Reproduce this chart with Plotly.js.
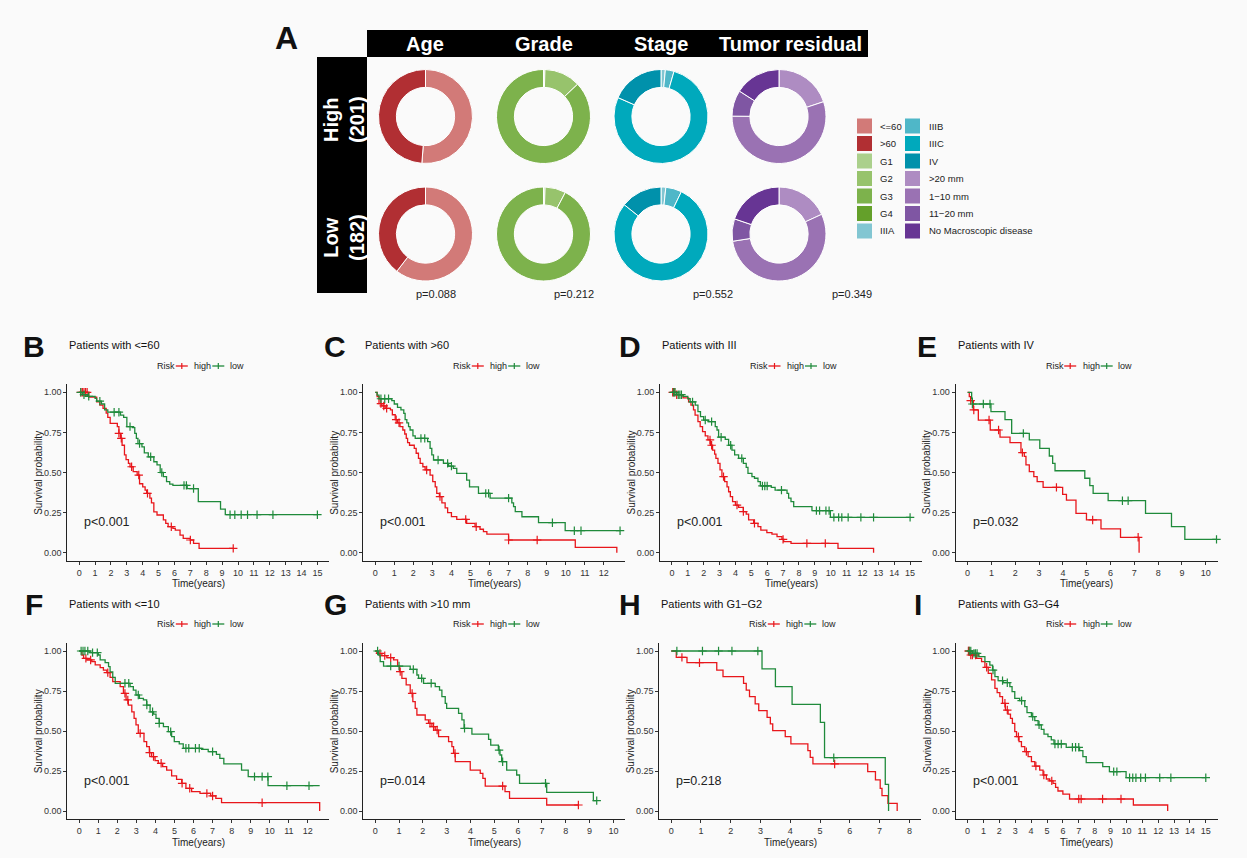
<!DOCTYPE html>
<html><head><meta charset="utf-8">
<script src="https://cdn.plot.ly/plotly-3.0.1.min.js"></script>
<style>html,body{margin:0;padding:0;background:#fafafa;}#chart{width:1247px;height:858px;}</style>
</head><body><div id="chart"></div>
<script>
// ---------------- Panel A data ----------------
const colLabels = ['Age', 'Grade', 'Stage', 'Tumor residual'];
const rowLabels = ['High<br>(201)', 'Low<br>(182)'];
const ageCats = ['&lt;=60', '>60'];
const ageHigh = [103, 98];
const ageLow = [110, 72];
const gradeCats = ['G1', 'G2', 'G3', 'G4'];
const gradeHigh = [1, 25, 175, 0];
const gradeLow = [1, 13, 168, 0];
const stageCats = ['IIIA', 'IIIB', 'IIIC', 'IV'];
const stageHigh = [3, 6, 155, 37];
const stageLow = [3, 10, 143, 26];
const residCats = ['>20 mm', '1\u221210 mm', '11\u221220 mm', 'No Macroscopic disease'];
const residHigh = [40, 111, 18, 32];
const residLow = [33, 99, 14, 36];
const pValuesA = ['p=0.088', 'p=0.212', 'p=0.552', 'p=0.349'];

const ageColors = ['#d27a78', '#b12f33'];
const gradeColors = ['#abd08c', '#97c36c', '#7db24c', '#64a02a'];
const stageColors = ['#82c6d2', '#4fb7c8', '#00a9bc', '#0091ab'];
const residColors = ['#ae8cc2', '#9a72b3', '#7f56a3', '#673594'];

// ---------------- KM panel data ----------------
const panelLetters = ['B', 'C', 'D', 'E', 'F', 'G', 'H', 'I'];
const panelTitles = ['Patients with &lt;=60', 'Patients with >60', 'Patients with III', 'Patients with IV',
  'Patients with &lt;=10', 'Patients with >10 mm', 'Patients with G1\u2212G2', 'Patients with G3\u2212G4'];
const panelP = ['p&lt;0.001', 'p&lt;0.001', 'p&lt;0.001', 'p=0.032', 'p&lt;0.001', 'p=0.014', 'p=0.218', 'p&lt;0.001'];
const legendTitle = 'Risk';
const groupNames = ['high', 'low'];
const ticks15 = [0,1,2,3,4,5,6,7,8,9,10,11,12,13,14,15];
const ticks12 = [0,1,2,3,4,5,6,7,8,9,10,11,12];
const ticks10 = [0,1,2,3,4,5,6,7,8,9,10];
const ticks8 = [0,1,2,3,4,5,6,7,8];
const yTickVals = [0, 0.25, 0.5, 0.75, 1];
const yTickText = ['0.00', '0.25', '0.50', '0.75', '1.00'];

// B
const B_high_time = [0,0.6,1.1,1.3,1.5,1.7,1.8,1.95,2.4,2.5,2.6,2.7,2.85,2.95,3.1,3.2,3.4,3.65,3.8,4.0,4.15,4.25,4.45,4.55,4.7,4.9,5.3,5.45,5.6,5.9,6.05,6.35,6.55,7.0,7.2,7.55,9.7];
const B_high_surv = [1,0.97,0.94,0.92,0.90,0.87,0.844,0.806,0.786,0.744,0.713,0.67,0.61,0.58,0.557,0.536,0.505,0.484,0.43,0.41,0.39,0.37,0.34,0.31,0.255,0.235,0.204,0.183,0.162,0.152,0.141,0.11,0.089,0.079,0.058,0.027,0.027];
const B_high_cens = [0.1,0.2,0.3,0.4,0.5,2.5,2.65,3.3,3.75,4.3,5.8,7.0,9.7];
const B_low_time = [0,0.2,0.5,1.0,1.1,1.4,1.6,1.8,2.6,2.8,3.0,3.35,3.5,3.6,3.7,3.95,4.1,4.35,4.7,4.9,5.1,5.3,5.5,5.7,5.9,6.8,7.5,8.9,9.2,15.0];
const B_low_surv = [1,0.985,0.975,0.962,0.945,0.927,0.89,0.876,0.858,0.844,0.786,0.78,0.744,0.713,0.68,0.66,0.623,0.598,0.567,0.547,0.5,0.474,0.443,0.428,0.42,0.40,0.318,0.272,0.237,0.237];
const B_low_cens = [0.1,0.3,0.6,1.3,2.2,2.5,3.2,3.8,4.5,5.2,6.6,6.75,7.2,9.5,9.8,10.2,10.6,11.2,12.2,15.0];
// C
const C_high_time = [0,0.1,0.2,0.35,0.52,0.8,0.9,1.05,1.17,1.3,1.45,1.55,1.63,1.7,1.8,2.05,2.15,2.27,2.36,2.5,2.62,2.88,3.02,3.15,3.23,3.37,3.5,3.67,3.8,4.0,4.28,4.8,5.24,5.5,5.68,5.86,7.0,10.5,12.68];
const C_high_surv = [1,0.973,0.93,0.915,0.9,0.89,0.86,0.83,0.81,0.786,0.765,0.74,0.713,0.686,0.67,0.65,0.62,0.588,0.557,0.536,0.516,0.484,0.443,0.41,0.37,0.35,0.31,0.28,0.25,0.225,0.208,0.183,0.162,0.146,0.131,0.116,0.079,0.033,0];
const C_high_cens = [0.3,0.45,0.6,1.1,1.25,2.7,3.4,4.75,5.3,7.0,8.5];
const C_low_time = [0,0.1,0.2,0.87,1.0,1.17,1.35,1.5,1.57,1.66,1.75,1.83,1.98,2.1,2.75,2.88,2.97,3.06,3.58,3.85,4.1,4.28,4.8,4.95,5.42,6.03,7.17,7.26,7.35,7.7,8.57,9.97,12.85];
const C_low_surv = [1,0.983,0.96,0.948,0.927,0.906,0.89,0.869,0.83,0.81,0.786,0.765,0.728,0.713,0.692,0.65,0.61,0.578,0.557,0.54,0.526,0.494,0.453,0.41,0.37,0.34,0.31,0.287,0.256,0.224,0.187,0.137,0.137];
const C_low_cens = [0.3,0.5,0.7,2.4,2.6,3.3,3.8,4.0,5.8,5.95,7.0,9.3,10.45,10.8,12.85];
// D
const D_high_time = [0,0.3,0.7,1.05,1.2,1.36,1.46,1.64,1.78,1.93,2.1,2.27,2.42,2.56,2.69,2.77,2.9,3.03,3.15,3.32,3.47,3.57,3.68,3.82,4.0,4.2,4.5,4.68,4.83,5.15,5.42,5.6,5.98,6.3,6.62,6.93,7.04,7.5,10.46,12.7];
const D_high_surv = [1,0.985,0.965,0.94,0.92,0.89,0.858,0.817,0.786,0.755,0.728,0.703,0.67,0.64,0.615,0.588,0.557,0.516,0.474,0.443,0.41,0.38,0.35,0.318,0.297,0.283,0.256,0.241,0.204,0.183,0.162,0.141,0.125,0.116,0.1,0.083,0.069,0.058,0.027,0];
const D_high_cens = [0.05,0.15,0.3,2.4,2.5,3.25,4.1,4.5,5.2,7.0,8.5,9.66];
const D_low_time = [0,0.3,0.7,1.0,1.15,1.47,1.64,1.8,2.0,2.3,2.73,2.84,2.94,3.36,3.57,3.78,3.95,4.2,4.5,4.68,4.79,5.04,5.2,5.42,5.57,6.26,6.5,7.25,7.35,7.5,7.67,8.82,9.98,15.0];
const D_low_surv = [1,0.985,0.975,0.96,0.94,0.92,0.88,0.848,0.827,0.817,0.786,0.765,0.72,0.707,0.67,0.64,0.61,0.588,0.557,0.532,0.495,0.474,0.464,0.443,0.416,0.407,0.39,0.37,0.34,0.318,0.287,0.262,0.22,0.22];
const D_low_cens = [0.1,0.2,0.4,0.5,0.6,1.3,2.1,2.5,3.1,3.7,4.4,5.7,5.85,6.0,6.9,9.1,9.3,9.7,9.9,10.2,10.5,10.7,11.1,11.9,12.7,15.0];
// E
const E_high_time = [0,0.07,0.13,0.24,0.45,0.95,1.36,1.78,2.24,2.38,2.45,2.59,2.78,2.92,3.17,3.99,4.15,4.55,4.99,5.6,6.42,7.2];
const E_high_surv = [1,0.973,0.948,0.89,0.827,0.765,0.72,0.686,0.624,0.6,0.547,0.505,0.474,0.443,0.407,0.364,0.328,0.245,0.204,0.148,0.096,0];
const E_high_cens = [0.13,0.26,0.9,1.3,2.3,3.73,5.25,7.16];
const E_low_time = [0,0.17,0.2,0.98,1.57,1.85,2.59,3.03,3.43,3.57,3.67,4.92,5.13,5.27,5.9,7.47,8.56,9.12,10.45];
const E_low_surv = [1,0.963,0.927,0.88,0.83,0.744,0.703,0.65,0.603,0.557,0.511,0.464,0.418,0.37,0.324,0.245,0.162,0.083,0.083];
const E_low_cens = [0.2,0.66,0.94,2.34,6.5,6.74,10.45];
// F
const F_high_time = [0,0.14,0.23,0.4,0.66,0.84,1.1,1.27,1.45,1.62,1.76,2.15,2.32,2.46,2.58,2.76,2.88,2.98,3.1,3.4,3.54,3.68,3.8,3.98,4.15,4.38,4.59,4.85,5.11,5.38,5.6,5.9,6.34,6.9,7.17,7.47,12.62];
const F_high_surv = [1,0.975,0.954,0.944,0.933,0.913,0.896,0.881,0.865,0.835,0.808,0.777,0.735,0.694,0.662,0.62,0.579,0.538,0.485,0.433,0.402,0.365,0.34,0.315,0.298,0.277,0.256,0.219,0.198,0.173,0.142,0.121,0.11,0.094,0.079,0.052,0];
const F_high_cens = [0.35,0.6,1.5,2.4,2.55,3.2,3.7,3.9,4.3,5.4,5.8,6.7,7.0,9.6];
const F_low_time = [0,0.58,1.0,1.1,1.36,1.54,1.62,1.76,1.89,2.67,2.84,2.98,3.16,3.37,3.54,3.72,3.9,4.03,4.2,4.42,4.68,4.85,4.99,5.25,5.46,6.42,6.77,7.2,7.38,7.59,8.52,8.87,9.91,12.62];
const F_low_surv = [1,0.99,0.975,0.944,0.927,0.902,0.87,0.835,0.798,0.777,0.756,0.725,0.704,0.694,0.662,0.62,0.606,0.579,0.548,0.527,0.496,0.465,0.433,0.419,0.392,0.385,0.371,0.354,0.329,0.294,0.256,0.215,0.158,0.158];
const F_low_cens = [0.1,0.2,0.3,0.45,0.7,0.95,2.4,2.6,3.1,3.55,3.85,4.2,4.8,5.6,5.75,6.1,6.3,7.0,9.2,9.6,9.9,10.9,12.06];
// G
const G_high_time = [0,0.07,0.28,0.49,0.77,0.94,1.02,1.12,1.3,1.47,1.58,1.68,1.75,2.1,2.24,2.38,2.52,2.66,3.08,3.22,3.29,3.36,3.99,4.41,4.52,4.62,5.45,5.64,7.2,8.53];
const G_high_surv = [1,0.985,0.971,0.958,0.944,0.906,0.871,0.829,0.788,0.735,0.683,0.642,0.6,0.569,0.548,0.527,0.506,0.465,0.433,0.402,0.36,0.308,0.256,0.235,0.204,0.156,0.121,0.079,0.0375,0.0375];
const G_high_cens = [0.2,0.4,0.65,1.05,1.55,2.3,2.45,2.6,3.35,5.35,8.53];
const G_low_time = [0,0.14,0.21,0.35,1.47,1.75,1.82,2.03,2.52,2.7,2.8,2.94,3.0,3.5,3.64,3.73,4.06,4.76,4.85,5.17,5.24,5.31,5.52,5.94,6.06,7.2,9.16,9.3];
const G_low_surv = [1,0.975,0.933,0.906,0.885,0.85,0.829,0.798,0.777,0.756,0.715,0.673,0.642,0.61,0.569,0.517,0.481,0.448,0.412,0.381,0.35,0.308,0.256,0.225,0.173,0.117,0.065,0.065];
const G_low_cens = [0.1,0.65,1.0,1.6,1.95,2.35,3.75,5.2,5.35,7.15,9.3];
// H
const H_high_time = [0,0.17,0.53,1.53,1.74,2.43,2.52,2.63,2.82,2.94,3.22,3.33,3.41,3.83,4.02,4.59,4.67,4.76,6.6,6.86,7.02,7.08,7.28,7.59];
const H_high_surv = [1,0.96,0.927,0.881,0.84,0.798,0.756,0.715,0.669,0.627,0.585,0.544,0.502,0.465,0.419,0.377,0.335,0.294,0.246,0.194,0.142,0.096,0.048,0];
const H_high_cens = [0.36,0.95,5.49];
const H_low_time = [0,3.05,3.5,4.06,5.01,5.15,7.19,7.3];
const H_low_surv = [1,0.888,0.777,0.667,0.554,0.333,0.167,0];
const H_low_cens = [0.19,1.05,1.59,2.04,2.91,5.46];
// I
const I_high_time = [0,0.15,0.56,0.88,1.09,1.3,1.51,1.72,1.86,2.03,2.2,2.38,2.55,2.7,2.82,2.97,3.08,3.24,3.39,3.6,3.81,4.02,4.23,4.54,4.75,4.96,5.17,5.38,5.54,5.69,6.0,6.42,10.44,12.6];
const I_high_surv = [1,0.975,0.954,0.933,0.898,0.86,0.819,0.767,0.74,0.715,0.673,0.631,0.606,0.579,0.548,0.496,0.465,0.433,0.402,0.371,0.34,0.308,0.281,0.256,0.225,0.2,0.188,0.173,0.148,0.125,0.106,0.075,0.0375,0];
const I_high_cens = [0.05,0.1,0.2,0.3,0.5,1.2,2.35,2.5,3.2,3.7,4.3,4.8,5.3,7.0,7.15,8.5,9.66];
const I_low_time = [0,0.3,0.7,1.09,1.4,1.57,1.72,1.92,2.24,2.66,2.8,2.97,3.28,3.6,3.74,4.02,4.23,4.44,4.64,4.81,5.06,5.27,5.44,6.21,7.05,7.26,7.47,8.51,8.93,9.98,15.0];
const I_low_surv = [1,0.985,0.965,0.933,0.912,0.881,0.84,0.815,0.802,0.777,0.746,0.704,0.69,0.652,0.615,0.59,0.565,0.538,0.51,0.481,0.465,0.444,0.419,0.398,0.377,0.34,0.302,0.277,0.246,0.208,0.208];
const I_low_cens = [0.1,0.2,0.4,0.5,0.6,1.6,2.2,2.5,3.4,4.1,4.5,5.5,5.7,5.9,6.6,6.8,7.0,9.2,9.4,10.2,10.4,10.6,10.9,11.2,12.1,12.8,15.0];

// ---------------- layout helpers ----------------
const W = 1247, H = 858;
const px = v => v / W;
const py = v => 1 - v / H;
const FONT = 'Arial, "Liberation Sans", sans-serif';
const RED = '#e8161b', GREEN = '#1f8a3b';

const data = [];
const annotations = [];
const shapes = [];
const layout = {
  width: W, height: H, margin: {l: 0, r: 0, t: 0, b: 0},
  paper_bgcolor: '#fafafa', plot_bgcolor: 'rgba(0,0,0,0)',
  font: {family: FONT, color: '#222'},
  showlegend: false
};
function note(text, x, y, size, color, xanchor, extra) {
  annotations.push(Object.assign({text: text, x: px(x), y: py(y), xref: 'paper', yref: 'paper', showarrow: false,
    font: {size: size, color: color, family: FONT}, xanchor: xanchor || 'center', yanchor: 'middle'}, extra || {}));
}
function pline(x0, y0, x1, y1, color, w) {
  shapes.push({type: 'line', xref: 'paper', yref: 'paper', x0: px(x0), y0: py(y0), x1: px(x1), y1: py(y1),
    line: {color: color, width: w}});
}

// ---- Panel A ----
note('<b>A</b>', 286, 38, 32, '#111');
shapes.push({type: 'rect', xref: 'paper', yref: 'paper', x0: px(367), x1: px(868), y0: py(57), y1: py(30), fillcolor: '#000', line: {width: 0}});
shapes.push({type: 'rect', xref: 'paper', yref: 'paper', x0: px(317), x1: px(367), y0: py(293), y1: py(57), fillcolor: '#000', line: {width: 0}});
const colX = [425, 543.5, 661, 790];
colLabels.forEach((t, i) => note('<b>' + t + '</b>', colX[i], 44, 20, '#fff'));
const rowY = [120, 238];
rowLabels.forEach((t, i) => note('<b>' + t + '</b>', 344, rowY[i], 20, '#fff', 'center', {textangle: -90}));

const pieCX = [425.5, 543.5, 661, 779];
const pieCY = [116.5, 234];
const pieR = 47;
const pieSets = [
  [ageCats, ageHigh, ageLow, ageColors],
  [gradeCats, gradeHigh, gradeLow, gradeColors],
  [stageCats, stageHigh, stageLow, stageColors],
  [residCats, residHigh, residLow, residColors]
];
pieSets.forEach((set, c) => {
  [set[1], set[2]].forEach((vals, r) => {
    data.push({
      type: 'pie', labels: set[0], values: vals, sort: false, direction: 'clockwise', rotation: 0,
      hole: 0.62, textinfo: 'none', hoverinfo: 'label+value', showlegend: false,
      marker: {colors: set[3], line: {color: '#ffffff', width: 1}},
      domain: {x: [px(pieCX[c] - pieR), px(pieCX[c] + pieR)], y: [py(pieCY[r] + pieR), py(pieCY[r] - pieR)]}
    });
  });
});
const pX = [436, 574, 713, 852];
pValuesA.forEach((t, i) => note(t, pX[i], 294, 11, '#222'));

// Panel A legend (two columns)
const allCats = ageCats.concat(gradeCats, stageCats, residCats);
const allColors = ageColors.concat(gradeColors, stageColors, residColors);
allCats.forEach((cat, i) => {
  const col = Math.floor(i / 7), row = i % 7;
  const sx = [857, 905][col], tx = [878, 927][col];
  const cy = 126 + 17.5 * row;
  shapes.push({type: 'rect', xref: 'paper', yref: 'paper', x0: px(sx), x1: px(sx + 15), y0: py(cy + 7.5), y1: py(cy - 7.5),
    fillcolor: allColors[i], line: {width: 0}});
  note(cat, tx, cy, 9.5, '#222', 'left');
});

// ---- KM panels ----
const kmSets = [
  [[B_high_time, B_high_surv, B_high_cens], [B_low_time, B_low_surv, B_low_cens]],
  [[C_high_time, C_high_surv, C_high_cens], [C_low_time, C_low_surv, C_low_cens]],
  [[D_high_time, D_high_surv, D_high_cens], [D_low_time, D_low_surv, D_low_cens]],
  [[E_high_time, E_high_surv, E_high_cens], [E_low_time, E_low_surv, E_low_cens]],
  [[F_high_time, F_high_surv, F_high_cens], [F_low_time, F_low_surv, F_low_cens]],
  [[G_high_time, G_high_surv, G_high_cens], [G_low_time, G_low_surv, G_low_cens]],
  [[H_high_time, H_high_surv, H_high_cens], [H_low_time, H_low_surv, H_low_cens]],
  [[I_high_time, I_high_surv, I_high_cens], [I_low_time, I_low_surv, I_low_cens]]
];
const panelTicks = [ticks15, ticks12, ticks15, ticks10, ticks12, ticks10, ticks8, ticks15];
const panelRange = [[-0.75, 15.75], [-0.625, 13.125], [-0.75, 15.75], [-0.5, 10.5], [-0.625, 13.125], [-0.5, 10.5], [-0.4, 8.4], [-0.75, 15.75]];
const panelLeft = [67.3, 363.3, 660, 955.7, 67.3, 363.3, 659.3, 955.7];
const panelWidth = 262;
const rowTop = [384.3, 643], rowBot = [560.7, 819];
const letterX = [34, 335, 630, 927, 34, 335, 630, 918];
const letterY = [346, 604], titleY = [345, 604], legendY = [366, 624], xTitleY = [583, 842];

function survAt(times, surv, t) {
  let v = surv[0];
  for (let i = 0; i < times.length; i++) { if (times[i] <= t) v = surv[i]; }
  return v;
}

kmSets.forEach((groups, k) => {
  const n = k + 1;
  const xa = n === 1 ? 'x' : 'x' + n, ya = n === 1 ? 'y' : 'y' + n;
  const row = k < 4 ? 0 : 1;
  const L = panelLeft[k], R = L + panelWidth, C = (L + R) / 2;
  groups.forEach((g, gi) => {
    const color = gi === 0 ? RED : GREEN;
    data.push({type: 'scatter', x: g[0], y: g[1], mode: 'lines', line: {shape: 'hv', color: color, width: 1.3},
      xaxis: xa, yaxis: ya, showlegend: false, hoverinfo: 'x+y', cliponaxis: false});
    data.push({type: 'scatter', x: g[2], y: g[2].map(t => survAt(g[0], g[1], t)), mode: 'markers',
      marker: {symbol: 'cross-thin', size: 6, color: color, line: {width: 1.2, color: color}},
      xaxis: xa, yaxis: ya, showlegend: false, hoverinfo: 'x+y', cliponaxis: false});
  });
  layout['xaxis' + (n === 1 ? '' : n)] = {
    domain: [px(L), px(R)], range: panelRange[k], anchor: ya, tickmode: 'array', tickvals: panelTicks[k],
    ticktext: panelTicks[k].map(String), ticks: 'outside', ticklen: 3, tickwidth: 1, tickcolor: '#333',
    showline: true, linecolor: '#222', linewidth: 1, showgrid: false, zeroline: false,
    tickfont: {size: 9, color: '#333'}, fixedrange: true
  };
  layout['yaxis' + (n === 1 ? '' : n)] = {
    domain: [py(rowBot[row]), py(rowTop[row])], range: [-0.05, 1.05], anchor: xa, tickmode: 'array',
    tickvals: yTickVals, ticktext: yTickText, ticks: 'outside', ticklen: 3, tickwidth: 1, tickcolor: '#333',
    showline: true, linecolor: '#222', linewidth: 1, showgrid: false, zeroline: false,
    tickfont: {size: 9, color: '#333'}, fixedrange: true
  };
  // legend "Risk -+- high -+- low"
  const ly = legendY[row];
  note(legendTitle, C - 43, ly, 9, '#222', 'left');
  const symC = [C - 16.5, C + 20];
  const txtX = [C - 6, C + 29.5];
  groupNames.forEach((nm, gi) => {
    const color = gi === 0 ? RED : GREEN;
    pline(symC[gi] - 6, ly, symC[gi] + 6, ly, color, 1.3);
    pline(symC[gi], ly - 3, symC[gi], ly + 3, color, 1.2);
    note(nm, txtX[gi], ly, 9, '#222', 'left');
  });
  note('<b>' + panelLetters[k] + '</b>', letterX[k], letterY[row], 30, '#111');
  note(panelTitles[k], L, titleY[row], 11, '#111', 'left');
  annotations.push({text: panelP[k], x: px(L + 15), y: 0.19, xref: 'paper', yref: ya, showarrow: false,
    font: {size: 12.5, color: '#222', family: FONT}, xanchor: 'left', yanchor: 'middle'});
  note('Survival probability', L - 29, (rowTop[row] + rowBot[row]) / 2, 10, '#222', 'center', {textangle: -90});
  note('Time(years)', C, xTitleY[row], 10, '#222');
});

layout.annotations = annotations;
layout.shapes = shapes;
Plotly.newPlot('chart', data, layout, {displayModeBar: false});
</script></body></html>
